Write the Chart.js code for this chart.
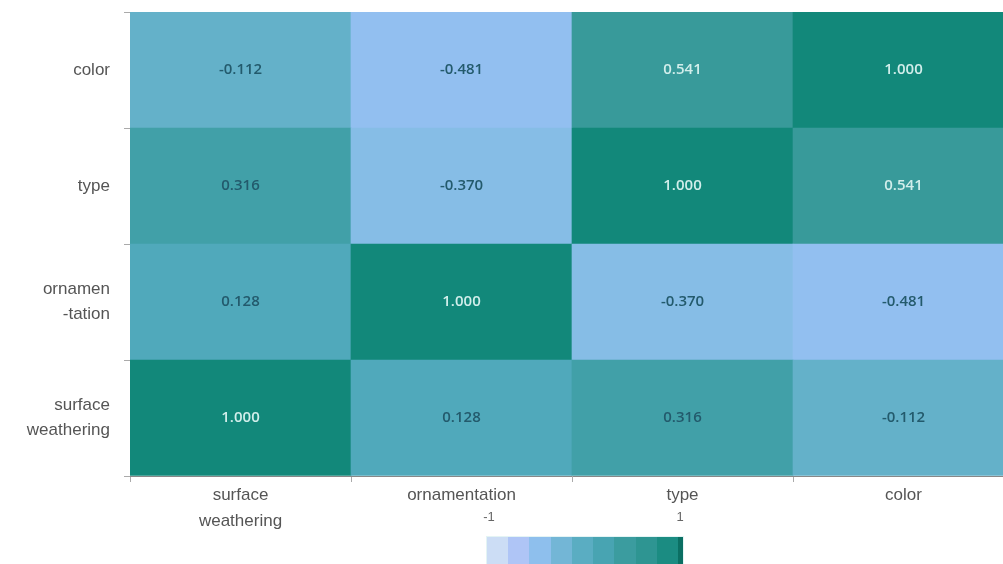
<!DOCTYPE html>
<html>
<head>
<meta charset="utf-8">
<script src="https://cdn.jsdelivr.net/npm/chart.js@4.4.1/dist/chart.umd.min.js"></script>
<style>
  body { margin: 0; background: #fff; overflow: hidden; width: 1003px; height: 564px; position: relative; }
  #wrap { position: absolute; left: 0; top: 0; width: 1014px; height: 564px; }
  #bar { position: absolute; left: 487px; top: 537px; width: 191px; height: 30px; border-right: 5px solid #0b6f63; box-shadow: 0 0 0 1px #e4f4f4; }
  .cb { position: absolute; top: 509px; font: 13px "Liberation Sans", Arial, sans-serif; color: #666; transform: translateX(-50%); }
</style>
</head>
<body>
<div id="wrap"><canvas id="heat"></canvas></div>
<div class="cb" style="left:489px">-1</div>
<div class="cb" style="left:680px">1</div>
<div id="bar"></div>
<script>
// columns (x) and rows (y, bottom to top)
const cols = ['surface weathering', 'ornamentation', 'type', 'color'];
const colLabels = [['surface', 'weathering'], 'ornamentation', 'type', 'color'];
const rowLabels = [['surface', 'weathering'], ['ornamen', '-tation'], 'type', 'color'];

const surfaceRow = [1.000, 0.128, 0.316, -0.112];
const ornamentRow = [0.128, 1.000, -0.370, -0.481];
const typeRow = [0.316, -0.370, 1.000, 0.541];
const colorRow = [-0.112, -0.481, 0.541, 1.000];
const rows = [surfaceRow, ornamentRow, typeRow, colorRow];

// colour scale stops
const stops = [
    [-1, [214, 230, 242]],
    [-0.85, [200, 218, 246]],
    [-0.6, [166, 190, 246]],
    [-0.5, [148, 192, 242]],
    [-0.35, [132, 188, 228]],
    [-0.1, [98, 176, 200]],
    [0.15, [78, 168, 186]],
    [0.35, [62, 158, 164]],
    [0.55, [56, 154, 154]],
    [1, [18, 136, 122]]
];

function colorFor(v) {
    for (let i = 1; i < stops.length; i++) {
        if (v <= stops[i][0]) {
            const a = stops[i - 1], b = stops[i];
            const t = (v - a[0]) / (b[0] - a[0]);
            const c = a[1].map((x, k) => Math.round(x + (b[1][k] - x) * t));
            return 'rgb(' + c.join(',') + ')';
        }
    }
    return 'rgb(' + stops[stops.length - 1][1].join(',') + ')';
}

// stepped colour bar below the chart
const grad = [];
const bins = 9;
for (let i = 0; i < bins; i++) {
    const c = colorFor(-1 + (i + 0.5) * 2 / bins);
    grad.push(c + ' ' + (i / bins * 100).toFixed(1) + '%');
    grad.push(c + ' ' + ((i + 1) / bins * 100).toFixed(1) + '%');
}
document.getElementById('bar').style.background = 'linear-gradient(to right, ' + grad.join(', ') + ')';

const datasets = rows.map((r, i) => ({
    label: i,
    data: r.map(() => 1),
    values: r,
    backgroundColor: r.map(colorFor),
    borderWidth: 0,
    barPercentage: 1,
    categoryPercentage: 1
}));

const cellText = {
    id: 'cellText',
    afterDatasetsDraw(chart) {
        const ctx = chart.ctx;
        ctx.save();
        ctx.font = '600 15px "Open Sans", Arial, sans-serif';
        ctx.textAlign = 'center';
        ctx.textBaseline = 'middle';
        chart.data.datasets.forEach((ds, i) => {
            chart.getDatasetMeta(i).data.forEach((el, j) => {
                const v = ds.values[j];
                ctx.fillStyle = v > 0.4 ? '#d2eeeb' : '#235a6c';
                ctx.fillText(v.toFixed(3), el.x, (el.y + el.base) / 2);
            });
        });
        ctx.restore();
    }
};

new Chart(document.getElementById('heat'), {
    type: 'bar',
    data: { labels: colLabels, datasets: datasets },
    plugins: [cellText],
    options: {
        responsive: true,
        maintainAspectRatio: false,
        animation: false,
        layout: { padding: { top: 12, right: 0, bottom: 0, left: 0 } },
        plugins: { legend: { display: false }, tooltip: { enabled: false } },
        scales: {
            x: {
                stacked: true,
                grid: { offset: true, drawOnChartArea: false, tickLength: 6, tickColor: '#aaa' },
                border: { color: '#888' },
                ticks: { color: '#555', padding: 0, font: { family: '"Liberation Sans", Arial, sans-serif', size: 17, lineHeight: 1.55 } },
                afterFit(s) { s.height = 88; s.paddingLeft = 0; s.paddingRight = 0; }
            },
            y: {
                stacked: true,
                min: 0,
                max: 4,
                grid: {
                    drawOnChartArea: false,
                    tickLength: 6,
                    tickColor: (c) => (c.tick && c.tick.value % 1 === 0) ? '#aaa' : 'rgba(0,0,0,0)'
                },
                border: { display: false },
                ticks: {
                    stepSize: 0.5,
                    color: '#555',
                    padding: 14,
                    font: { family: '"Liberation Sans", Arial, sans-serif', size: 17, lineHeight: 1.45 },
                    callback: (v) => (v % 1 === 0.5) ? rowLabels[Math.floor(v)] : ''
                },
                afterFit(s) { s.width = 130; s.paddingTop = 0; s.paddingBottom = 0; }
            }
        }
    }
});
</script>
</body>
</html>
